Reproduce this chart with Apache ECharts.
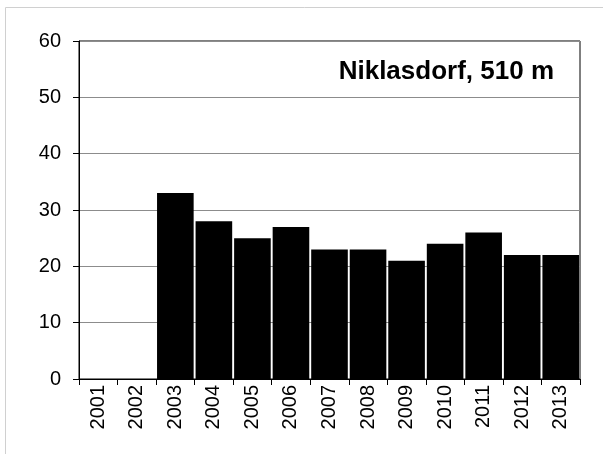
<!DOCTYPE html>
<html>
<head>
<meta charset="utf-8">
<script src="https://cdn.jsdelivr.net/npm/echarts@6/dist/echarts.min.js"></script>
<style>
  html, body { margin: 0; padding: 0; background: #fff; }
  #chart { width: 603px; height: 454px; }
</style>
</head>
<body>
<div id="chart"></div>
<script>
var years = ["2001", "2002", "2003", "2004", "2005", "2006", "2007", "2008", "2009", "2010", "2011", "2012", "2013"];
var values = [0, 0, 33, 28, 25, 27, 23, 23, 21, 24, 26, 22, 22];
var yTicks = [0, 10, 20, 30, 40, 50, 60];
var stationTitle = "Niklasdorf, 510 m";

var chart = echarts.init(document.getElementById("chart"));
chart.setOption({
  animation: false,
  title: {
    text: stationTitle,
    right: 44,
    top: 54,
    textStyle: { fontFamily: "Liberation Sans", fontSize: 26, fontWeight: "bold", color: "#000" }
  },
  graphic: [{
    type: "rect",
    shape: { x: 5.5, y: 7.5, width: 620, height: 470 },
    style: { fill: "none", stroke: "#d0d0d0", lineWidth: 1 }
  }],
  grid: {
    left: 79, right: 23, top: 41, bottom: 75,
    show: true, borderColor: "#000", borderWidth: 1
  },
  xAxis: {
    type: "category",
    data: years,
    axisLine: { lineStyle: { color: "#000" } },
    axisTick: { show: true, length: 6, lineStyle: { color: "#000" } },
    axisLabel: {
      rotate: 90, margin: 6, color: "#000",
      fontFamily: "Liberation Sans", fontSize: 20
    }
  },
  yAxis: {
    type: "value",
    min: yTicks[0], max: yTicks[yTicks.length - 1], interval: 10,
    axisLine: { show: true, lineStyle: { color: "#000" } },
    axisTick: { show: true, length: 6, lineStyle: { color: "#000" } },
    axisLabel: { margin: 18, color: "#000", fontFamily: "Liberation Sans", fontSize: 20 },
    splitLine: { lineStyle: { color: "#8c8c8c" } }
  },
  series: [{
    type: "bar",
    data: values,
    barCategoryGap: "5%",
    itemStyle: { color: "#000" }
  }]
});
</script>
</body>
</html>
